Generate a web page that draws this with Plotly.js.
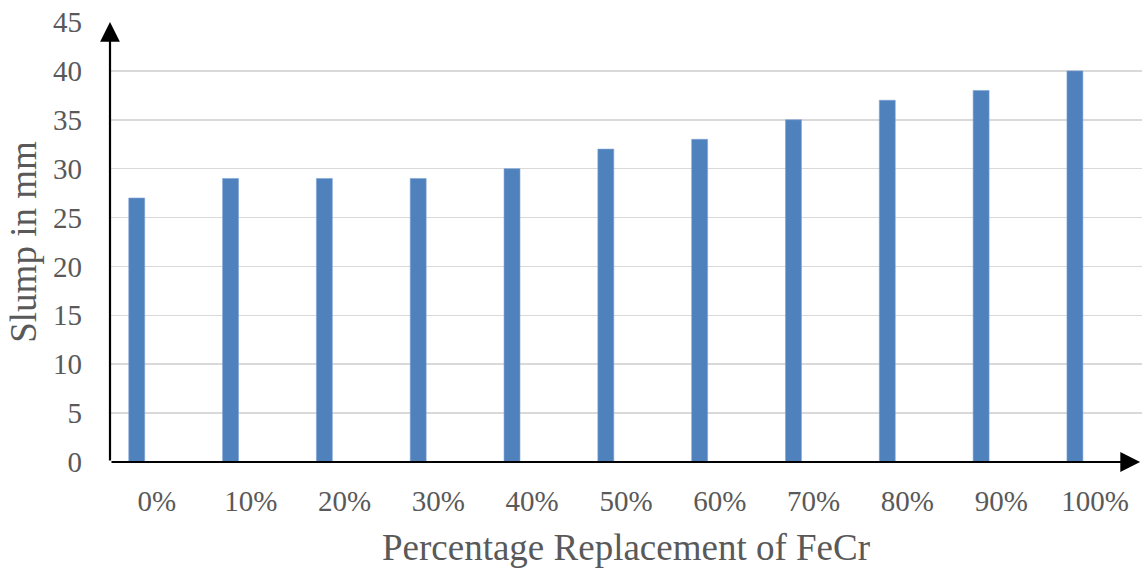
<!DOCTYPE html>
<html>
<head>
<meta charset="utf-8">
<script src="https://cdn.plot.ly/plotly-3.0.1.min.js"></script>
<style>html,body{margin:0;padding:0;background:#fff;}#chart{width:1142px;height:569px;}</style>
</head>
<body>
<div id="chart"></div>
<script>
var categories = ["0%", "10%", "20%", "30%", "40%", "50%", "60%", "70%", "80%", "90%", "100%"];
var slump = [27, 29, 29, 29, 30, 32, 33, 35, 37, 38, 40];
var yTicks = [0, 5, 10, 15, 20, 25, 30, 35, 40, 45];

var font = {family: "Liberation Serif, Times New Roman, serif", color: "#595959"};

var trace = {
  type: "bar",
  x: categories,
  y: slump,
  width: 0.17,
  offset: -0.3,
  marker: {color: "#4f81bd", line: {color: "#7ea3d6", width: 0.6}},
  hoverinfo: "x+y"
};

var layout = {
  width: 1142,
  height: 569,
  margin: {l: 110, r: 0, t: 22, b: 107},
  paper_bgcolor: "#ffffff",
  plot_bgcolor: "#ffffff",
  showlegend: false,
  xaxis: {
    type: "category",
    range: [-0.5, 10.5],
    showgrid: false,
    zeroline: false,
    showline: false,
    ticks: "",
    ticklabelstandoff: 19,
    tickfont: {family: font.family, color: font.color, size: 29},
    title: {text: "Percentage Replacement of FeCr", font: {family: font.family, color: font.color, size: 37}, standoff: 18},
    automargin: false
  },
  yaxis: {
    range: [0, 45],
    tickvals: yTicks,
    ticktext: yTicks.map(String),
    showgrid: true,
    gridcolor: "#d9d9d9",
    gridwidth: 1.5,
    zeroline: false,
    showline: false,
    ticks: "",
    ticklabelstandoff: 27,
    tickfont: {family: font.family, color: font.color, size: 29},
    title: {text: "Slump in mm", font: {family: font.family, color: font.color, size: 37}, standoff: 5},
    automargin: false
  },
  annotations: [
    {xref: "x", yref: "y", axref: "x", ayref: "y", x: -0.5, y: 45, ax: -0.5, ay: 0,
     showarrow: true, arrowhead: 2, arrowsize: 1.8, arrowwidth: 2.2, arrowcolor: "#000000", text: ""},
    {xref: "x", yref: "y", axref: "x", ayref: "y", x: 10.48, y: 0, ax: -0.5, ay: 0,
     showarrow: true, arrowhead: 2, arrowsize: 1.8, arrowwidth: 2.2, arrowcolor: "#000000", text: ""}
  ]
};

Plotly.newPlot("chart", [trace], layout, {displayModeBar: false, staticPlot: true});
</script>
</body>
</html>
